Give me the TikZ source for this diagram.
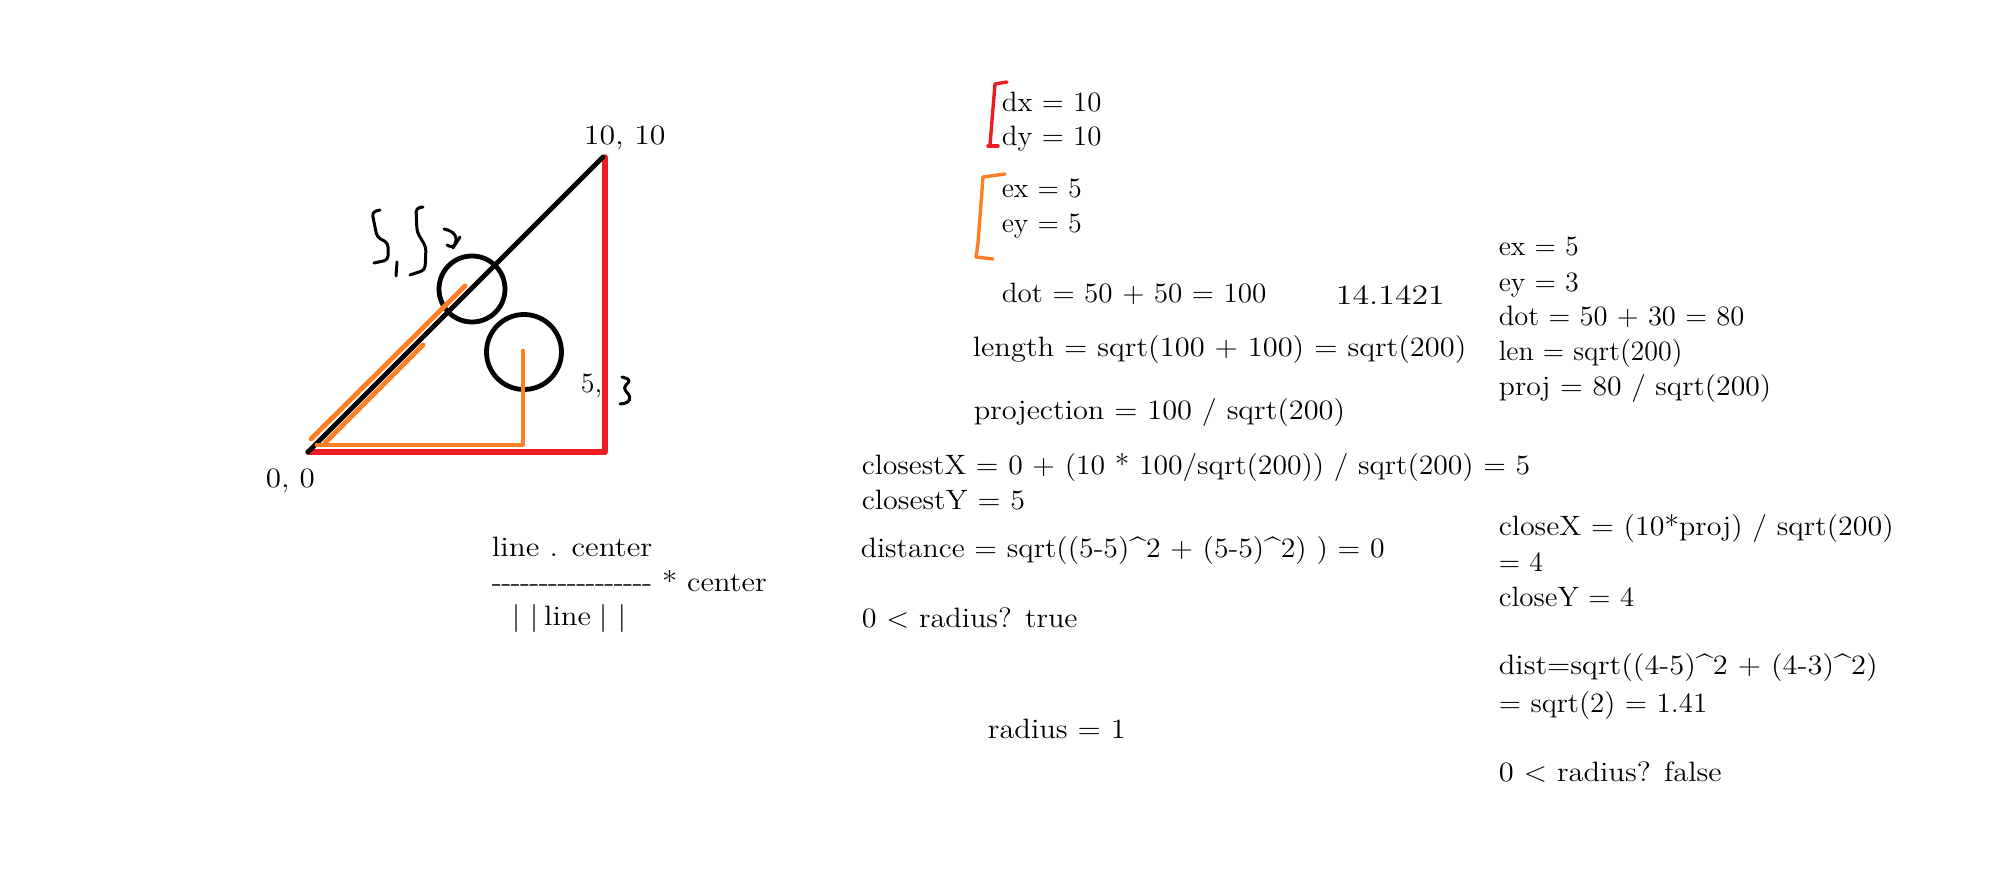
\documentclass[tikz,border=0pt]{standalone}
\usepackage{amsmath}
\usetikzlibrary{arrows}
\definecolor{penred}{RGB}{237,28,36}
\definecolor{penorange}{RGB}{255,127,39}
\newcommand{\barpiece}{-\kern-.3pt}

\begin{document}
\begin{tikzpicture}[x=0.5pt,y=-0.5pt,line join=round,line cap=round,
                    thick,note/.style={anchor=base west,inner sep=0pt,font=\fontsize{14}{17}\selectfont},
                    stretched/.style={xscale=#1},
                    blackpen/.style={draw=black,line width=2.4pt},
                    redpen/.style={draw=penred,line width=2.7pt},
                    orangepen/.style={draw=penorange,line width=2.4pt},
                    bracket/.style={line width=1.7pt},
                    scribble/.style={draw=black,line width=1.5pt,rounded corners=2pt}]

  \useasboundingbox (0,0) rectangle (1992,892);

  % triangle
  \coordinate (origin) at (308,452);
  \coordinate (corner) at (605,452);
  \coordinate (tip) at (603,157);
  \coordinate (foot) at (523,445);

  \draw[redpen] (origin) -- (corner) -- (605,157);
  \draw[blackpen] (origin) -- (tip);
  \node[blackpen,circle,minimum size=33pt,inner sep=0pt] (near) at (472,289) {};
  \node[blackpen,circle,minimum size=37.5pt,inner sep=0pt] (far) at (524,352) {};
  \coordinate (fartop) at (523,351);
  \draw[orangepen] (311,439) -- (465,286);
  \draw[orangepen] (325,443) -- (423,345);
  \draw[orangepen] (317,445) -- (foot) -- (fartop);

  % hand written 5, 5 and 3
  \draw[scribble] (380,210) -- (372,212) -- (377,237) -- (388,243) -- (388,260) -- (374,263);
  \draw[scribble] (397,262) -- (396,276);
  \draw[scribble] (423,207) -- (416,208) -- (417,232) -- (426,247) -- (425,270) -- (410,275);
  \draw[scribble] (444,229) .. controls (458,232) and (458,240) .. (453,248);
  \draw[scribble] (447,245) -- (453,248) -- (460,237);
  \draw[scribble] (622,377) -- (631,380) -- (623,388) -- (631,397) -- (628,403) -- (620,404);

  % brackets
  \draw[redpen,bracket] (1007,82) -- (995,84) -- (990,145);
  \draw[redpen,bracket] (988,146) -- (998,146);
  \draw[orangepen,bracket] (1005,174) -- (983,177) -- (978,243) -- (976,257) -- (993,259);

  % labels at the triangle
  \node[note,stretched=1.14] (tiplabel) at (583,145) {10, 10};
  \node[note,stretched=1.11] (originlabel) at (265,488) {0, 0};
  \node[note] (pointlabel) at (580,393) {5,};

  % formula
  \node[note,stretched=1.115] (linecenter) at (491,557) {line . center};
  \node[note,stretched=1.1] (fracbar) at (491,592) {\barpiece\barpiece\barpiece\barpiece\barpiece\barpiece\barpiece\barpiece\barpiece\barpiece\barpiece\barpiece\barpiece\barpiece\barpiece\barpiece- * center};
  \node[note,stretched=1.1] (linelen) at (511,625) {|\kern4.3pt|\kern2.6pt line\kern3.5pt|\kern4.7pt|};

  % middle column
  \node[note,stretched=1.03] (dx) at (1001,112) {dx = 10};
  \node[note,stretched=1.03] (dy) at (1001,146) {dy = 10};
  \node[note] (ex) at (1001,198) {ex = 5};
  \node[note] (ey) at (1001,233) {ey = 5};
  \node[note,stretched=1.04] (dot) at (1001,303) {dot = 50 + 50 = 100};
  \node[note,stretched=1.21] (root) at (1335,305) {14.1421};
  \node[note,stretched=1.09] (length) at (972,357) {length = sqrt(100 + 100) = sqrt(200)};
  \node[note,stretched=1.085] (projection) at (973,420) {projection = 100 / sqrt(200)};
  \node[note,stretched=1.06] (closestx) at (861,475) {closestX = 0 + (10 * 100/sqrt(200)) / sqrt(200) = 5};
  \node[note,stretched=1.075] (closesty) at (861,510) {closestY = 5};
  \node[note,stretched=1.064] (distance) at (860,558) {distance = sqrt((5-5)\^{}2 + (5-5)\^{}2) ) = 0};
  \node[note,stretched=1.076] (inside) at (861,628) {0 < radius? true};
  \node[note,stretched=1.09] (radius) at (987,738) {radius = 1};

  % right column
  \node[note] (exb) at (1498,256) {ex = 5};
  \node[note] (eyb) at (1498,292) {ey = 3};
  \node[note,stretched=1.02] (dotb) at (1498,326) {dot = 50 + 30 = 80};
  \node[note] (lenb) at (1498,361) {len = sqrt(200)};
  \node[note,stretched=1.06] (projb) at (1498,396) {proj = 80 / sqrt(200)};
  \node[note,stretched=1.07] (closexb) at (1498,536) {closeX = (10*proj) / sqrt(200)};
  \node[note] (closexc) at (1498,572) {= 4};
  \node[note,stretched=1.04] (closeyb) at (1498,607) {closeY = 4};
  \node[note,stretched=1.09] (distb) at (1498,675) {dist=sqrt((4-5)\^{}2 + (4-3)\^{}2)};
  \node[note,stretched=1.04] (distc) at (1498,712) {= sqrt(2) = 1.41};
  \node[note,stretched=1.09] (outside) at (1498,781) {0 < radius? false};
\end{tikzpicture}
\end{document}
